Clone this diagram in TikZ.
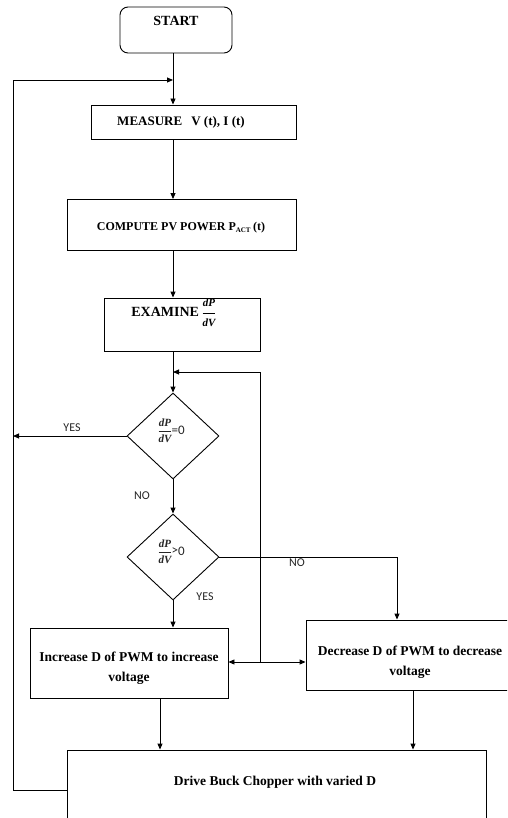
\documentclass[tikz,border=0pt]{standalone}
\usepackage{fontspec}
\usepackage{amsmath}
\setmainfont{Liberation Serif}
\newfontfamily\lblfont{Carlito}
\usetikzlibrary{arrows.meta,shapes.geometric,calc}
\newcommand{\bi}[2]{\mbox{\rmfamily\bfseries\itshape\fontsize{#1}{#1}\selectfont #2}}
\begin{document}
\begin{tikzpicture}[x=1pt,y=-1pt, line width=0.9pt,
  >={Triangle[length=6pt,width=5pt]},
  box/.style={draw, rectangle, inner sep=0pt},
  btxt/.style={font=\bfseries\fontsize{13.5}{19.5}\selectfont, align=center, inner sep=0pt},
  dia/.style={draw, diamond, inner sep=0pt, minimum width=92pt, minimum height=86pt},
  txt/.style={font=\bfseries\fontsize{14}{16}\selectfont, inner sep=0pt},
  lbl/.style={font=\lblfont\fontsize{12}{14}\selectfont, inner sep=0pt, text=black!85}]
\useasboundingbox (0,0) rectangle (507,818);
\clip (0,0) rectangle (507,818);

% axis and junctions
\coordinate (ax) at (173,0);
\coordinate (lx) at (13,80);
\coordinate (j1) at (173,80);
\coordinate (j2) at (173,372);
\coordinate (jm) at (260,662);
\coordinate (xi) at (160,0);
\coordinate (xn) at (397,0);

% nodes
\node[box, rounded corners=8pt, minimum width=112pt, minimum height=46pt] (start) at (176,30) {};
\node[txt] (starttxt) at (176,21) {START};
\node[box, minimum width=205pt, minimum height=34pt] (meas) at (193.5,122) {};
\node[txt, font=\bfseries\fontsize{13}{16}\selectfont] (meastxt) at (181,122) {MEASURE\hspace{0.7em}V (t), I (t)};
\node[box, minimum width=229pt, minimum height=51pt] (comp) at (181.5,225) {};
\node[txt, font=\bfseries\fontsize{12}{14}\selectfont] (comptxt) at (181,228) {COMPUTE PV POWER P\textsubscript{\fontsize{7}{8}\selectfont ACT}\,(t)};
\node[box, minimum width=156pt, minimum height=53pt] (exam) at (182,324.5) {};
\node[txt] (examtxt) at (174,313) {EXAMINE\,$\dfrac{\bi{11}{dP}}{\bi{11}{dV}}$};
\node[dia] (d1) at (173,436) {};
\node[lbl, font=\lblfont\fontsize{13}{14}\selectfont] (d1txt) at (171,431) {$\dfrac{\bi{11}{dP}}{\bi{11}{dV}}$\kern-1pt=0};
\node[dia] (d2) at (173,557) {};
\node[lbl, font=\lblfont\fontsize{13}{14}\selectfont] (d2txt) at (171,552) {$\dfrac{\bi{11}{dP}}{\bi{11}{dV}}$\kern-1pt\raisebox{1pt}{>}0};
\node[box, minimum width=198pt, minimum height=70pt] (inc) at (129,663) {};
\node[btxt] (inctxt) at (129,668) {Increase D of PWM to increase\\voltage};
\node[box, minimum width=214pt, minimum height=70pt] (dec) at (413,655) {};
\node[btxt] (dectxt) at (410,662) {Decrease D of PWM to decrease\\voltage};
\node[box, minimum width=419pt, minimum height=80pt] (drive) at (276.5,790) {};
\node[btxt] (drivetxt) at (275,782) {Drive Buck Chopper with varied D};

% labels
\node[lbl] (yes1) at (72,428) {YES};
\node[lbl] (no1) at (142,496) {NO};
\node[lbl] (yes2) at (205,597) {YES};
\node[lbl] (no2) at (297,563) {NO};

% connectors
\draw[->] (start.south -| ax) -- (meas.north -| ax);
\draw[->] (drive.west) -| (lx) -- (j1);
\draw[->] (meas.south -| ax) -- (comp.north -| ax);
\draw[->] (comp.south -| ax) -- (exam.north -| ax);
\draw[->] (exam.south -| ax) -- (d1.north);
\draw[->] (jm) |- (j2);
\draw[->] (d1.west) -- (d1.west -| lx);
\draw[->] (d1.south) -- (d2.north);
\draw[->] (d2.east) -| (dec.north -| xn);
\draw[->] (d2.south) -- (inc.north -| ax);
\draw[->] (jm) -- (inc.east |- jm);
\draw[->] (jm) -- (dec.west |- jm);
\draw[->] (inc.south -| xi) -- (drive.north -| xi);
\draw[->] (dec.south) -- (drive.north -| dec.south);
\end{tikzpicture}
\end{document}
